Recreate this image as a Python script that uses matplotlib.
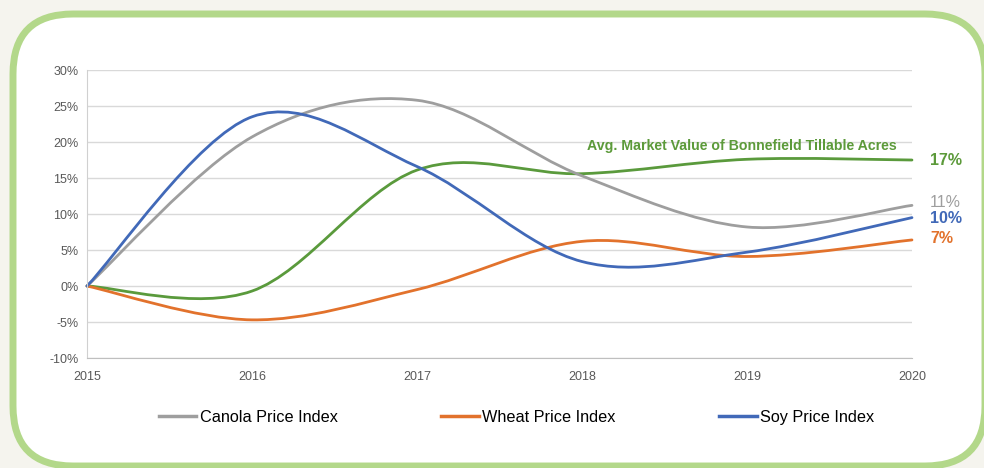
import matplotlib
matplotlib.use('Agg')
import matplotlib.pyplot as plt
from matplotlib.path import Path
from matplotlib.patches import PathPatch, FancyBboxPatch
from matplotlib.lines import Line2D
from matplotlib.transforms import IdentityTransform
from matplotlib.ticker import FuncFormatter

plt.rcParams['font.family'] = ['Liberation Sans', 'DejaVu Sans']

# Annual values (% change since 2015)
years = [2015, 2016, 2017, 2018, 2019, 2020]
canola = [0, 20.7, 25.8, 15.3, 8.2, 11.2]
wheat = [0, -4.7, -0.5, 6.2, 4.1, 6.4]
soy = [0, 23.5, 16.6, 3.4, 4.7, 9.5]
farmland = [0, -0.7, 16.1, 15.6, 17.6, 17.5]

series_names = ['Canola Price Index', 'Wheat Price Index', 'Soy Price Index']
end_labels = ['11%', '7%', '10%']
farmland_label = 'Avg. Market Value of Bonnefield Tillable Acres'
farmland_end = '17%'

COLORS = {'canola': '#9e9e9e', 'wheat': '#e2722c', 'soy': '#4169b8',
          'farm': '#5a9a3c', 'farm_text': '#5c9a3a'}


def smooth_path(xs, ys):
    """Excel-style smoothed line: Catmull-Rom segments as cubic Beziers."""
    n = len(xs)
    verts = [(xs[0], ys[0])]
    codes = [Path.MOVETO]
    for i in range(n - 1):
        x0, y0 = xs[max(i - 1, 0)], ys[max(i - 1, 0)]
        x1, y1 = xs[i], ys[i]
        x2, y2 = xs[i + 1], ys[i + 1]
        x3, y3 = xs[min(i + 2, n - 1)], ys[min(i + 2, n - 1)]
        c1 = (x1 + (x2 - x0) / 6, y1 + (y2 - y0) / 6)
        c2 = (x2 - (x3 - x1) / 6, y2 - (y3 - y1) / 6)
        verts += [c1, c2, (x2, y2)]
        codes += [Path.CURVE4] * 3
    return Path(verts, codes)


fig = plt.figure(figsize=(9.84, 4.68), dpi=100)
fig.patch.set_facecolor('#f5f4ee')

# rounded white card with green border
card = FancyBboxPatch((13, 2), 972, 452, boxstyle='round,pad=0,rounding_size=60',
                      transform=IdentityTransform(), facecolor='white',
                      edgecolor='#b3d88a', linewidth=5, zorder=-5)
fig.patches.append(card)

ax = fig.add_axes([0.0884, 0.235, 0.8384, 0.6154])
ax.set_facecolor('none')
ax.set_xlim(2015, 2020)
ax.set_ylim(-10, 30)
ax.set_xticks(years)
ax.set_yticks(range(-10, 31, 5))
ax.yaxis.set_major_formatter(FuncFormatter(lambda v, p: f'{int(v)}%'))
ax.grid(axis='y', color='#d9d9d9', linewidth=1)
ax.set_axisbelow(True)
for side in ['top', 'right']:
    ax.spines[side].set_visible(False)
ax.spines['left'].set_color('#d0d0d0')
ax.spines['bottom'].set_color('#bfbfbf')
ax.tick_params(length=0, labelsize=9, labelcolor='#595959', pad=9)
ax.tick_params(axis='y', pad=6)

for vals, col in [(farmland, COLORS['farm']), (canola, COLORS['canola']),
                  (wheat, COLORS['wheat']), (soy, COLORS['soy'])]:
    ax.add_patch(PathPatch(smooth_path(years, vals), fill=False, edgecolor=col,
                           linewidth=2, capstyle='round', clip_on=False))

ax.text(2018.97, 19.4, farmland_label, color=COLORS['farm_text'], fontsize=10.2,
        fontweight='bold', ha='center', va='center')
ax.text(2020.11, farmland[-1], farmland_end, color=COLORS['farm_text'], fontsize=11.5,
        fontweight='bold', ha='left', va='center')
ax.text(2020.11, 11.6, end_labels[0], color=COLORS['canola'], fontsize=11.5,
        ha='left', va='center')
ax.text(2020.11, 9.4, end_labels[2], color=COLORS['soy'], fontsize=11.5,
        fontweight='bold', ha='left', va='center')
ax.text(2020.11, 6.6, end_labels[1], color=COLORS['wheat'], fontsize=11.5,
        fontweight='bold', ha='left', va='center')

handles = [Line2D([], [], color=c, linewidth=2.5)
           for c in (COLORS['canola'], COLORS['wheat'], COLORS['soy'])]
fig.legend(handles, series_names, loc='center', bbox_to_anchor=(0.525, 0.108),
           ncol=3, frameon=False, fontsize=11.7, handlelength=2.3, handletextpad=0.2,
           columnspacing=6.4)

fig.savefig('out.png', dpi=100, facecolor=fig.get_facecolor())
